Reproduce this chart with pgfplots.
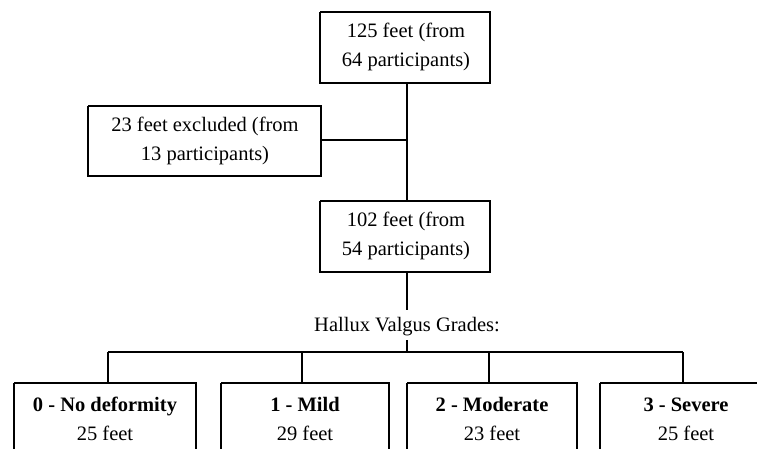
\documentclass[border=0pt]{standalone}
\usepackage{pgfplots}
\pgfplotsset{compat=1.18}
\usepackage{fontspec}
\setmainfont{Liberation Serif}
\tikzset{txt/.style={font=\fontsize{20.5}{29}\selectfont, align=center, inner sep=0pt, text=black},
  ln/.style={black, solid, line width=1.8pt, mark=none}}
\begin{document}
\begin{tikzpicture}
\begin{axis}[
  x=1pt, y=1pt, y dir=reverse,
  xmin=0, xmax=757, ymin=0, ymax=448,
  axis lines=none, clip=true,
]
\fill[white] (axis cs:0,0) rectangle (axis cs:757,448);
% boxes
\addplot[ln] coordinates {(320,12) (490,12) (490,83) (320,83) (320,12)};
\addplot[ln] coordinates {(88,106) (321,106) (321,176) (88,176) (88,106)};
\addplot[ln] coordinates {(320,201) (490,201) (490,272) (320,272) (320,201)};
\addplot[ln] coordinates {(14,383) (196,383) (196,470) (14,470) (14,383)};
\addplot[ln] coordinates {(221,383) (389,383) (389,470) (221,470) (221,383)};
\addplot[ln] coordinates {(407,383) (577,383) (577,470) (407,470) (407,383)};
\addplot[ln] coordinates {(600,383) (800,383) (800,470) (600,470) (600,383)};
% connectors
\addplot[ln] coordinates {(407,83) (407,201)};
\addplot[ln] coordinates {(321,140) (407,140)};
\addplot[ln] coordinates {(407,272) (407,310)};
\addplot[ln] coordinates {(407,340) (407,352)};
\addplot[ln] coordinates {(108,352) (683,352)};
\addplot[ln] coordinates {(108,352) (108,383)};
\addplot[ln] coordinates {(302,352) (302,383)};
\addplot[ln] coordinates {(489,352) (489,383)};
\addplot[ln] coordinates {(683,352) (683,383)};
% texts
\node[txt] at (axis cs:406,47) {125 feet (from\\64 participants)};
\node[txt] at (axis cs:205,141) {23 feet excluded (from\\13 participants)};
\node[txt] at (axis cs:406,236) {102 feet (from\\54 participants)};
\node[txt] at (axis cs:407,327) {Hallux Valgus Grades:};
\node[txt] at (axis cs:105,419) {\textbf{0 - No deformity}\\25 feet};
\node[txt] at (axis cs:305,419) {\textbf{1 - Mild}\\29 feet};
\node[txt] at (axis cs:492,419) {\textbf{2 - Moderate}\\23 feet};
\node[txt] at (axis cs:686,419) {\textbf{3 - Severe}\\25 feet};
\end{axis}
\end{tikzpicture}
\end{document}
